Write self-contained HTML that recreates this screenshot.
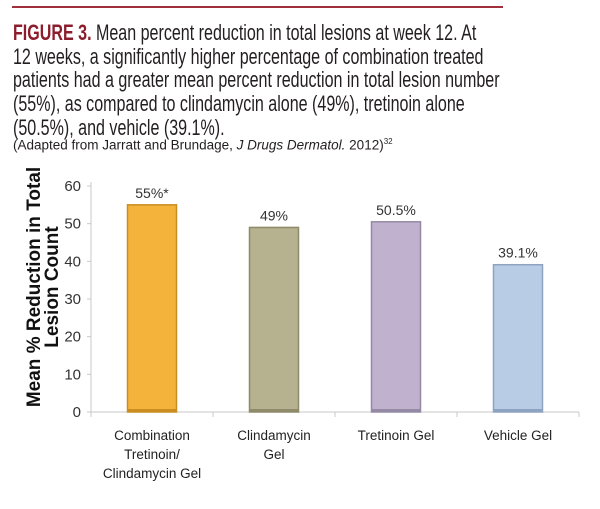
<!DOCTYPE html>
<html><head><meta charset="utf-8"><style>
body{margin:0;background:#fff;width:600px;height:509px;overflow:hidden;font-family:"Liberation Sans",sans-serif}
.ln{position:absolute;left:13px;font-size:22px;line-height:24px;color:#231f20;white-space:nowrap;transform:scaleX(0.73);transform-origin:0 0}
.ln b{color:#8c1d2c}
.cite{position:absolute;left:13px;top:137px;font-size:13.5px;color:#231f20;white-space:nowrap}
</style></head><body>
<div style="position:absolute;left:12px;top:6px;width:491px;height:2px;background:#a0303c"></div>
<div>
<div class="ln" style="top:21px"><b>FIGURE 3.</b> Mean percent reduction in total lesions at week 12. At</div>
<div class="ln" style="top:45px">12 weeks, a significantly higher percentage of combination treated</div>
<div class="ln" style="top:68px">patients had a greater mean percent reduction in total lesion number</div>
<div class="ln" style="top:92px">(55%), as compared to clindamycin alone (49%), tretinoin alone</div>
<div class="ln" style="top:116px">(50.5%), and vehicle (39.1%).</div>
</div>
<div class="cite">(Adapted from Jarratt and Brundage, <i>J Drugs Dermatol.</i> 2012)<sup style="font-size:8px">32</sup></div>
<svg id="c" width="600" height="509" style="position:absolute;left:0;top:0"></svg>
<script>
const categories=[["Combination","Tretinoin/","Clindamycin Gel"],["Clindamycin","Gel"],["Tretinoin Gel"],["Vehicle Gel"]];
const values=[55,49,50.5,39.1];
const valueLabels=["55%*","49%","50.5%","39.1%"];
const colors=["#f4b43c","#b6b18e","#c0b2cf","#b9cce6"];
const edges=["#c98d20","#8e8a6a","#958aa6","#8ea3c0"];
const yTicks=[0,10,20,30,40,50,60];
const svg=document.getElementById('c');const NS="http://www.w3.org/2000/svg";
const x0=91,x1=579,y0=412,y1=186;
const band=(x1-x0)/categories.length;
const y=v=>y0-(v/60)*(y0-y1);
function mk(t,a,p){const e=document.createElementNS(NS,t);for(const k in a)e.setAttribute(k,a[k]);(p||svg).appendChild(e);return e;}
let e;
e=mk('line',{x1:x0,y1:y1-4,x2:x0,y2:y0,stroke:'#c8c8c8'});


e=mk('line',{x1:x0,y1:y0,x2:x1,y2:y0,stroke:'#c8c8c8'});


yTicks.forEach(t=>{mk('line',{x1:x0-4,x2:x0,y1:y(t),y2:y(t),stroke:'#c8c8c8'});
e=mk('text',{x:x0-10,y:y(t)+5,'text-anchor':'end','font-size':15,fill:'#333'});e.textContent=t;

});
for(let i=0;i<=categories.length;i++)mk('line',{x1:x0+band*i,x2:x0+band*i,y1:y0,y2:y0+5,stroke:'#c8c8c8'});
values.forEach((v,i)=>{const cx=x0+band*(i+0.5),w=49;
e=mk('rect',{x:cx-w/2,y:y(v),width:w,height:y0-y(v),fill:colors[i],stroke:edges[i],'stroke-width':1.5});


mk('rect',{x:cx-w/2,y:y0-3,width:w,height:3,fill:edges[i]});
e=mk('text',{x:cx,y:y(v)-7,'text-anchor':'middle','font-size':14,fill:'#333'});e.textContent=valueLabels[i];


categories[i].forEach((l,j)=>{e=mk('text',{x:cx,y:y0+28+j*19,'text-anchor':'middle','font-size':13.5,fill:'#222'});e.textContent=l;

});});
const g=mk('g',{transform:'translate(42,287) rotate(-90)'});
e=mk('text',{x:0,y:-2,'text-anchor':'middle','font-size':19,'font-weight':'bold',fill:'#111'},g);e.textContent="Mean % Reduction in Total";


e=mk('text',{x:0,y:16,'text-anchor':'middle','font-size':19,'font-weight':'bold',fill:'#111'},g);e.textContent="Lesion Count";


</script>
</body></html>
